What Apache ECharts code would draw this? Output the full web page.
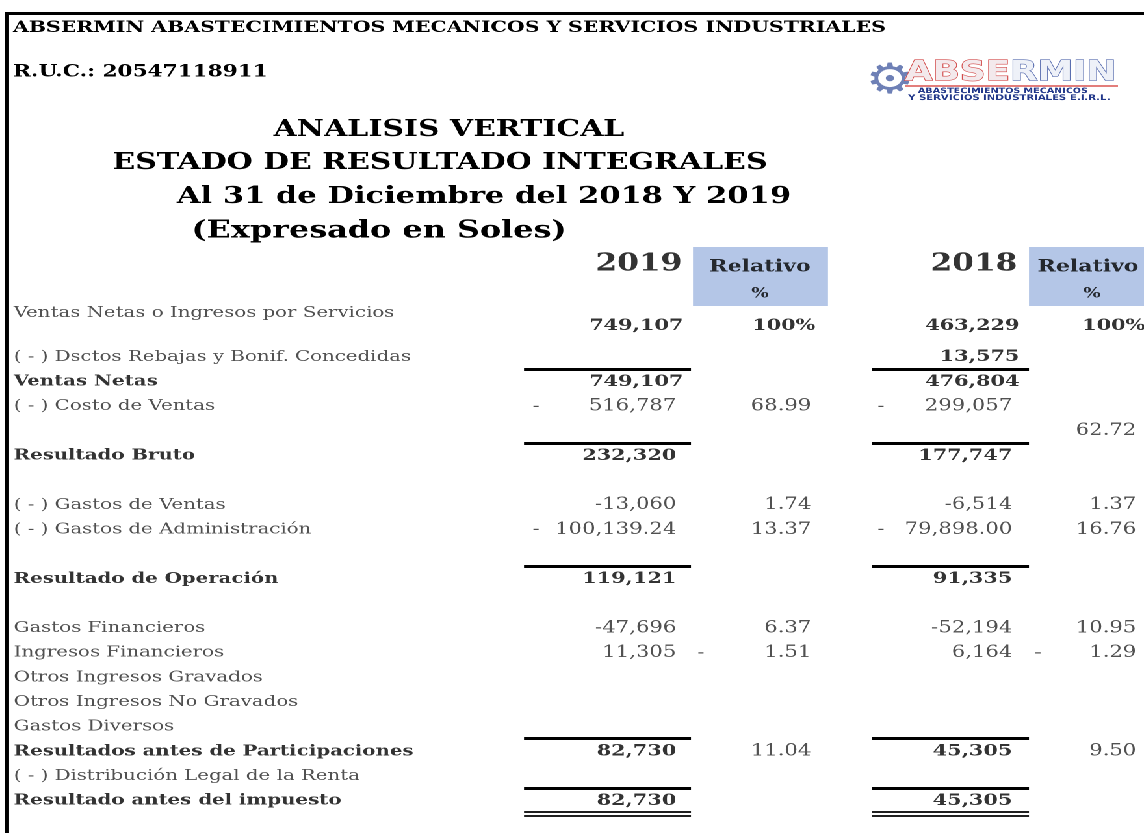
<!DOCTYPE html>
<html>
<head>
<meta charset="utf-8">
<title>Analisis vertical</title>
<script src="https://cdn.jsdelivr.net/npm/echarts@6/dist/echarts.min.js"></script>
<style>
  html, body { margin: 0; padding: 0; background: #fff; overflow: hidden; }
  /* the source sheet was captured stretched sideways, so the chart is too */
  #chart { width: 880px; height: 833px; transform: scaleX(1.3); transform-origin: 0 0; }
</style>
</head>
<body>
<div id="chart"></div>
<script>
// ---- data ----
const rowNames = [
  'Ventas Netas o Ingresos por Servicios',
  '( - ) Dsctos Rebajas y Bonif. Concedidas',
  'Ventas Netas',
  '( - ) Costo de Ventas',
  '',
  'Resultado Bruto',
  '( - ) Gastos de Ventas',
  '( - ) Gastos de Administración',
  'Resultado de Operación',
  'Gastos Financieros',
  'Ingresos Financieros',
  'Otros Ingresos Gravados',
  'Otros Ingresos No Gravados',
  'Gastos Diversos',
  'Resultados antes de Participaciones',
  '( - ) Distribución Legal de la Renta',
  'Resultado antes del impuesto'
];
// row slot of each line in the sheet (blank rows are skipped)
const rowPos = [-1.26, 0, 1, 2, 3, 4, 6, 7, 9, 11, 12, 13, 14, 15, 16, 17, 18];
const boldRows = ['Ventas Netas', 'Resultado Bruto', 'Resultado de Operación',
  'Resultados antes de Participaciones', 'Resultado antes del impuesto'];
const leadDash = ['( - ) Costo de Ventas', '( - ) Gastos de Administración'];
const trailDash = ['Ingresos Financieros'];

const years = ['2019', '2018'];
const relHead = ['Relativo', '%'];
const v2019 = ['749,107', '', '749,107', '516,787', '', '232,320', '-13,060', '100,139.24', '119,121',
  '-47,696', '11,305', '', '', '', '82,730', '', '82,730'];
const r2019 = ['100%', '', '', '68.99', '', '', '1.74', '13.37', '', '6.37', '1.51', '', '', '', '11.04', '', ''];
const v2018 = ['463,229', '13,575', '476,804', '299,057', '', '177,747', '-6,514', '79,898.00', '91,335',
  '-52,194', '6,164', '', '', '', '45,305', '', '45,305'];
const r2018 = ['100%', '', '', '', '62.72', '', '1.37', '16.76', '', '10.95', '1.29', '', '', '', '9.50', '', ''];

const titleLines = ['ANALISIS VERTICAL', 'ESTADO DE RESULTADO INTEGRALES',
  'Al 31 de Diciembre del 2018 Y 2019', '(Expresado en Soles)'];

// ---- layout ----
const S = 1.3;
const px = x => x / S;
const ROW_H = 24.65, ROW0_Y = 357;
const FONT = '"DejaVu Serif"';
const INK = '#262626';
const COL = { label: 13, lead19: 536, val19: 677, trail19: 701, rel19: 812,
  lead18: 881, val18: 1013, trail18: 1038, rel18: 1137 };
const TOP_SHIFT = 7;
const SPAN19 = [524, 691], SPAN18 = [872, 1029];

const labelNorm = [], labelBold = [], valNorm = [], valBold = [], dashes = [];
rowNames.forEach((name, i) => {
  const y = rowPos[i];
  const top = i < 3;
  const bold = boldRows.includes(name);
  if (name) (bold ? labelBold : labelNorm).push([COL.label, i === 0 ? -1.78 : y, name]);
  const sh = top ? TOP_SHIFT : 0;
  if (v2019[i]) ((bold || top) ? valBold : valNorm).push([COL.val19 + sh, y, v2019[i]]);
  if (v2018[i]) ((bold || top) ? valBold : valNorm).push([COL.val18 + sh, y, v2018[i]]);
  if (r2019[i]) (top ? valBold : valNorm).push([COL.rel19 + (top ? 4 : 0), y, r2019[i]]);
  if (r2018[i]) (top ? valBold : valNorm).push([COL.rel18 + (top ? 9 : 0), y, r2018[i]]);
  if (leadDash.includes(name)) dashes.push([COL.lead19, y, '-'], [COL.lead18, y, '-']);
  if (trailDash.includes(name)) dashes.push([COL.trail19, y, '-'], [COL.trail18, y, '-']);
});

const rules = [], doubles = [];
rowNames.forEach((name, i) => {
  if (!boldRows.includes(name)) return;
  const y = rowPos[i] - 0.52;
  rules.push({ coords: [[SPAN19[0], y], [SPAN19[1], y]] }, { coords: [[SPAN18[0], y], [SPAN18[1], y]] });
});
const last = rowPos[rowPos.length - 1];
[0.44, 0.61].forEach(d => {
  doubles.push({ coords: [[SPAN19[0], last + d], [SPAN19[1], last + d]] },
    { coords: [[SPAN18[0], last + d], [SPAN18[1], last + d]] });
});

const headYears = [[683, -3.77, years[0]], [1018, -3.77, years[1]]];
const headRel = [[760, -3.65, relHead[0]], [1088, -3.65, relHead[0]]];
const headPct = [[760, -2.56, relHead[1]], [1092, -2.56, relHead[1]]];

function textSeries(points, pos, size, bold, color) {
  return {
    type: 'scatter', data: points, symbolSize: 1, silent: true, clip: false, z: 5,
    itemStyle: { color: 'rgba(0,0,0,0)' },
    emphasis: { disabled: true },
    label: {
      show: true, position: pos, distance: 0,
      formatter: p => p.data[2],
      color: color || INK, fontFamily: FONT, fontSize: size,
      fontWeight: bold ? 'bold' : 'normal'
    }
  };
}

function ruleSeries(data, width) {
  return {
    type: 'lines', coordinateSystem: 'cartesian2d', polyline: false, silent: true,
    data: data, lineStyle: { color: '#000', width: width, opacity: 1, curveness: 0 }
  };
}

const headSeries = textSeries(headYears, 'left', 24, true, '#000');
headSeries.markArea = {
  silent: true,
  itemStyle: { color: '#b4c6e7' },
  data: [
    [{ coord: [693, -4.46] }, { coord: [828, -2.07] }],
    [{ coord: [1029, -4.46] }, { coord: [1144, -2.07] }]
  ]
};

function txt(x, y, text, size, align, extra) {
  return {
    type: 'text', x: px(x), y: y, silent: true,
    style: Object.assign({ text: text, fontFamily: FONT, fontSize: size, fontWeight: 'bold',
      fill: '#000', align: align, verticalAlign: 'middle' }, extra || {})
  };
}

const chart = echarts.init(document.getElementById('chart'), null, { devicePixelRatio: 2 });
chart.setOption({
  animation: false,
  grid: { left: 0, right: 0, top: 0, bottom: 0 },
  xAxis: { type: 'value', min: 0, max: 1144, show: false },
  yAxis: { type: 'value', inverse: true, show: false,
    min: -ROW0_Y / ROW_H, max: (833 - ROW0_Y) / ROW_H },
  series: [
    headSeries,
    textSeries(headRel, 'inside', 17, true, '#000'),
    textSeries(headPct, 'inside', 14, true, '#000'),
    textSeries(labelNorm, 'right', 15.2, false),
    textSeries(labelBold, 'right', 15.2, true, '#000'),
    textSeries(valNorm, 'left', 16.3, false),
    textSeries(valBold, 'left', 16, true, '#000'),
    textSeries(dashes, 'inside', 16, false),
    ruleSeries(rules, 3),
    ruleSeries(doubles, 1.8)
  ],
  graphic: [
    // sheet frame
    { type: 'line', silent: true, shape: { x1: px(5), y1: 13.5, x2: px(1144), y2: 13.5 }, style: { stroke: '#000', lineWidth: 3 } },
    { type: 'line', silent: true, shape: { x1: px(7), y1: 12, x2: px(7), y2: 833 }, style: { stroke: '#000', lineWidth: 3.2 } },
    txt(13, 28, 'ABSERMIN ABASTECIMIENTOS MECANICOS Y SERVICIOS INDUSTRIALES', 15.7, 'left'),
    txt(13, 72, 'R.U.C.: 20547118911', 16.6, 'left'),
    txt(449, 130, titleLines[0], 23, 'center'),
    txt(440, 163, titleLines[1], 23, 'center'),
    txt(484, 197, titleLines[2], 23.5, 'center'),
    txt(379, 231, titleLines[3], 24.5, 'center'),
    // company logo
    txt(890, 82, '\u2699', 42, 'center', { fontFamily: '"DejaVu Sans"', fontWeight: 'normal', fill: '#6e80b6' }),
    {
      type: 'text', x: px(905), y: 73, silent: true,
      style: {
        text: '{a|ABSE}{b|RMIN}', align: 'left', verticalAlign: 'middle',
        rich: {
          a: { fontFamily: '"DejaVu Sans"', fontWeight: 'bold', fontSize: 27.5, fill: '#f3e9ec', stroke: '#d24b4b', lineWidth: 1.2 },
          b: { fontFamily: '"DejaVu Sans"', fontWeight: 'bold', fontSize: 27.5, fill: '#eef1f8', stroke: '#5b6fb0', lineWidth: 1.2 }
        }
      }
    },
    { type: 'line', silent: true, shape: { x1: px(905), y1: 86, x2: px(1118), y2: 86 }, style: { stroke: '#d9534f', lineWidth: 1.5 } },
    txt(918, 91, 'ABASTECIMIENTOS MECANICOS', 7.4, 'left', { fontFamily: '"DejaVu Sans"', fill: '#22388a' }),
    txt(908, 98, 'Y SERVICIOS INDUSTRIALES E.I.R.L.', 7.8, 'left', { fontFamily: '"DejaVu Sans"', fill: '#22388a' })
  ]
});
</script>
</body>
</html>
